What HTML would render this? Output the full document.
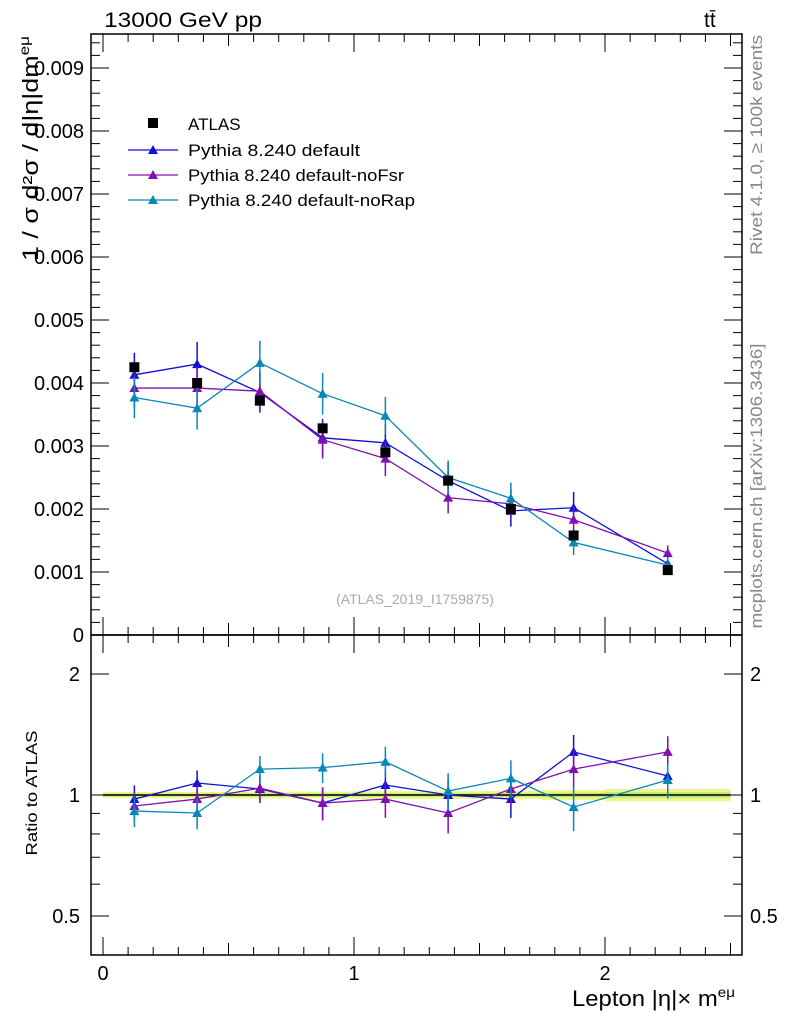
<!DOCTYPE html>
<html><head><meta charset="utf-8">
<style>
html,body{margin:0;padding:0;background:#fff;}
svg{display:block;font-family:"Liberation Sans",sans-serif;}
</style></head>
<body>
<svg id="chart" width="786" height="1024" viewBox="0 0 786 1024" xmlns="http://www.w3.org/2000/svg">
<text x="104" y="27" font-size="21" textLength="158" lengthAdjust="spacingAndGlyphs">13000 GeV pp</text>
<text x="704" y="27" font-size="21">tt̄</text>
<text transform="translate(762,145) rotate(-90)" text-anchor="middle" font-size="17" fill="#888" textLength="220" lengthAdjust="spacingAndGlyphs">Rivet 4.1.0, ≥ 100k events</text>
<text transform="translate(762,486) rotate(-90)" text-anchor="middle" font-size="17" fill="#888" textLength="285" lengthAdjust="spacingAndGlyphs">mcplots.cern.ch [arXiv:1306.3436]</text>
<text transform="translate(38,36) rotate(-90)" text-anchor="end" font-size="22" textLength="225" lengthAdjust="spacingAndGlyphs">1 / σ  d²σ / d|η|dm<tspan dy="-9" font-size="14">eμ</tspan></text>
<text transform="translate(37,793) rotate(-90)" text-anchor="middle" font-size="16" textLength="125" lengthAdjust="spacingAndGlyphs">Ratio to ATLAS</text>
<text x="572" y="1006" font-size="22" textLength="163" lengthAdjust="spacingAndGlyphs">Lepton |η|× m<tspan dy="-9" font-size="14">eμ</tspan></text>
<text x="415" y="604" text-anchor="middle" font-size="14" fill="#aaa">(ATLAS_2019_I1759875)</text>
<g id="main"></g>
<g id="ratio"></g>
<g id="legend"></g>
</svg>
<script>
const binCenters=[0.125,0.375,0.625,0.875,1.125,1.375,1.625,1.875,2.25];
const binHalf=[0.125,0.125,0.125,0.125,0.125,0.125,0.125,0.125,0.25];
const atlasVals=[0.00425,0.0040,0.00372,0.00328,0.0029,0.00245,0.0020,0.00158,0.00103];
const atlasErr=[0.00008,0.00008,0.00008,0.00007,0.00007,0.00006,0.00005,0.00005,0.00004];
const defVals=[0.00413,0.0043,0.00385,0.00313,0.00305,0.00245,0.00197,0.00202,0.00113];
const defErr=[0.00035,0.00035,0.00032,0.0003,0.0003,0.00028,0.00025,0.00025,0.00012];
const fsrVals=[0.00392,0.00392,0.00387,0.0031,0.0028,0.00218,0.00208,0.00183,0.0013];
const fsrErr=[0.00032,0.00033,0.00032,0.0003,0.00028,0.00025,0.00023,0.00022,0.00012];
const rapVals=[0.00377,0.0036,0.00432,0.00383,0.00348,0.0025,0.00217,0.00147,0.00111];
const rapErr=[0.00033,0.00034,0.00035,0.00033,0.0003,0.00027,0.00025,0.0002,0.00012];
const defRatio=[0.977,1.071,1.035,0.955,1.059,1.0,0.977,1.28,1.115];
const defRatioErr=[0.08,0.08,0.08,0.09,0.1,0.1,0.1,0.13,0.11];
const fsrRatio=[0.939,0.977,1.04,0.955,0.977,0.902,1.035,1.16,1.28];
const fsrRatioErr=[0.08,0.08,0.08,0.09,0.1,0.1,0.1,0.13,0.12];
const rapRatio=[0.912,0.902,1.16,1.17,1.21,1.023,1.10,0.933,1.09];
const rapRatioErr=[0.08,0.08,0.09,0.1,0.11,0.11,0.12,0.12,0.11];
const xTicks=[0,1,2];
const yTicks=[0,0.001,0.002,0.003,0.004,0.005,0.006,0.007,0.008,0.009];
const yTickLabels=["0","0.001","0.002","0.003","0.004","0.005","0.006","0.007","0.008","0.009"];
const rTicks=[0.5,1,2];
const rTickLabels=["0.5","1","2"];
const series=[
 {name:"Pythia 8.240 default",color:"#1010d8",vals:defVals,err:defErr,rv:defRatio,re:defRatioErr},
 {name:"Pythia 8.240 default-noFsr",color:"#8010b0",vals:fsrVals,err:fsrErr,rv:fsrRatio,re:fsrRatioErr},
 {name:"Pythia 8.240 default-noRap",color:"#0888b8",vals:rapVals,err:rapErr,rv:rapRatio,re:rapRatioErr}];

const L=91,R=742,MT=34,MB=635,RB=955;
const x=v=>103+(v)*251;
const y=v=>635-v*63000;
const ry=v=>795-Math.log2(v)*121;
const NS="http://www.w3.org/2000/svg";
function mk(p,t,a){const e=document.createElementNS(NS,t);for(const k in a)e.setAttribute(k,a[k]);p.appendChild(e);return e;}
const main=document.getElementById('main'),ratio=document.getElementById('ratio'),leg=document.getElementById('legend');
function tri(g,cx,cy,c){return mk(g,'polygon',{points:`${cx-5},${cy+4} ${cx+5},${cy+4} ${cx},${cy-5}`,fill:c});}

let f=mk(main,'rect',{x:L,y:MT,width:R-L,height:MB-MT,fill:'none',stroke:'#000','stroke-width':1.5});


f=mk(ratio,'rect',{x:L,y:MB,width:R-L,height:RB-MB,fill:'none',stroke:'#000','stroke-width':1.5});


for(let i=0;i<=25;i++){const v=i/10,px=x(v);if(px>R)break;const maj=i%10==0,len=maj?18:(i%5==0?12:8);
 for(const [t,b] of [[MT,MB],[MB,RB]]){mk(main,'line',{x1:px,x2:px,y1:b,y2:b-len,stroke:'#000'});mk(main,'line',{x1:px,x2:px,y1:t,y2:t+len,stroke:'#000'});}}
xTicks.forEach(v=>{const t=mk(ratio,'text',{x:x(v),y:980,'text-anchor':'middle','font-size':20});t.textContent=v;
 
 });
for(let i=0;i<=47;i++){const v=i*0.0002,py=y(v);if(py<MT)break;const maj=i%5==0,len=maj?18:9;
 mk(main,'line',{x1:L,x2:L+len,y1:py,y2:py,stroke:'#000'});mk(main,'line',{x1:R,x2:R-len,y1:py,y2:py,stroke:'#000'});}
yTicks.forEach((v,i)=>{const t=mk(main,'text',{x:84,y:y(v)+7,'text-anchor':'end','font-size':20});t.textContent=yTickLabels[i];
 
 });
[0.4,0.5,0.6,0.7,0.8,0.9,1,2].forEach(v=>{const py=ry(v),maj=rTicks.includes(v),len=maj?18:9;
 mk(ratio,'line',{x1:L,x2:L+len,y1:py,y2:py,stroke:'#000'});mk(ratio,'line',{x1:R,x2:R-len,y1:py,y2:py,stroke:'#000'});});
rTicks.forEach((v,i)=>{for(const [xx,an] of [[80,'end'],[750,'start']]){const t=mk(ratio,'text',{x:xx,y:ry(v)+7,'text-anchor':an,'font-size':20});t.textContent=rTickLabels[i];
 
 }});
binCenters.forEach((c,i)=>{const rel=atlasErr[i]/atlasVals[i];
 mk(ratio,'rect',{x:x(c-binHalf[i]),width:x(c+binHalf[i])-x(c-binHalf[i]),y:ry(1+rel*0.9),height:ry(1-rel*0.9)-ry(1+rel*0.9),fill:'#eef58a'});
 mk(ratio,'rect',{x:x(c-binHalf[i]),width:x(c+binHalf[i])-x(c-binHalf[i]),y:ry(1+rel*0.4),height:ry(1-rel*0.4)-ry(1+rel*0.4),fill:'#b8e870'});});
mk(ratio,'line',{x1:x(0),x2:x(2.5),y1:ry(1),y2:ry(1),stroke:'#000','stroke-width':1.5});
series.forEach((s,si)=>{
 const g=mk(main,'g',{});
 
 
 mk(g,'polyline',{points:binCenters.map((c,i)=>x(c)+','+y(s.vals[i])).join(' '),fill:'none',stroke:s.color,'stroke-width':1.3});
 binCenters.forEach((c,i)=>{mk(g,'line',{x1:x(c),x2:x(c),y1:y(s.vals[i]-s.err[i]),y2:y(s.vals[i]+s.err[i]),stroke:s.color,'stroke-width':1.5});
  const m=tri(g,x(c),y(s.vals[i]),s.color);
  
  });
 const rg=mk(ratio,'g',{});
 
 
 mk(rg,'polyline',{points:binCenters.map((c,i)=>x(c)+','+ry(s.rv[i])).join(' '),fill:'none',stroke:s.color,'stroke-width':1.3});
 binCenters.forEach((c,i)=>{mk(rg,'line',{x1:x(c),x2:x(c),y1:ry(s.rv[i]-s.re[i]),y2:ry(s.rv[i]+s.re[i]),stroke:s.color,'stroke-width':1.5});
  const m=tri(rg,x(c),ry(s.rv[i]),s.color);
  
  });
});
binCenters.forEach((c,i)=>{mk(main,'line',{x1:x(c),x2:x(c),y1:y(atlasVals[i]-atlasErr[i]),y2:y(atlasVals[i]+atlasErr[i]),stroke:'#000'});
 const m=mk(main,'rect',{x:x(c)-5,y:y(atlasVals[i])-5,width:10,height:10,fill:'#000'});
 
 });
let t=mk(leg,'rect',{x:148,y:118,width:10,height:10,fill:'#000'});
t=mk(leg,'text',{x:188,y:130,'font-size':17});t.textContent="ATLAS";


series.forEach((s,i)=>{const ly=150+i*25;
 mk(leg,'line',{x1:128,x2:178,y1:ly,y2:ly,stroke:s.color,'stroke-width':1.3});tri(leg,153,ly,s.color);
 const tt=mk(leg,'text',{x:188,y:ly+6,'font-size':17,textLength:[172,216,227][i],lengthAdjust:'spacingAndGlyphs'});tt.textContent=s.name;
 
 });
</script>
</body></html>
